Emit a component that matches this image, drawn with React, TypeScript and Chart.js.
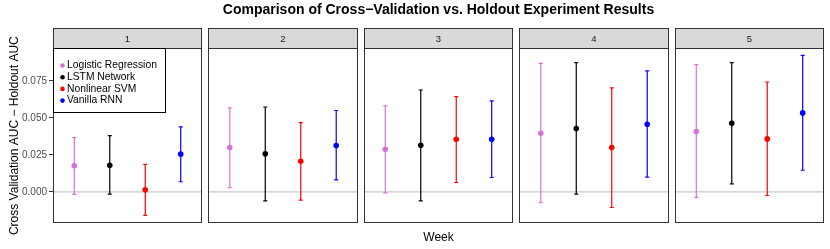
import React, { useEffect, useRef } from "react";
import { Chart, registerables } from "chart.js";

Chart.register(...registerables);

const titleText = "Comparison of Cross\u2212Validation vs. Holdout Experiment Results";
const xTitle = "Week";
const yTitle = "Cross Validation AUC \u2212 Holdout AUC";

const weeks = ["1", "2", "3", "4", "5"];
const models = ["Logistic Regression", "LSTM Network", "Nonlinear SVM", "Vanilla RNN"];
const modelColors = ["#DA70D6", "#000000", "#FF0000", "#0000FF"];
const yTicks = [0, 0.025, 0.05, 0.075];

const logisticMean = [0.0176, 0.03, 0.0288, 0.0396, 0.0408];
const logisticLow = [-0.0018, 0.0029, -0.0007, -0.0074, -0.0038];
const logisticHigh = [0.0367, 0.0568, 0.0581, 0.0869, 0.086];

const lstmMean = [0.018, 0.0257, 0.0315, 0.0428, 0.0464];
const lstmLow = [-0.0016, -0.0061, -0.0061, -0.0016, 0.0054];
const lstmHigh = [0.038, 0.0574, 0.0689, 0.0874, 0.0874];

const svmMean = [0.0014, 0.0207, 0.0356, 0.03, 0.0358];
const svmLow = [-0.016, -0.0056, 0.0063, -0.0106, -0.0025];
const svmHigh = [0.0185, 0.0468, 0.0644, 0.0703, 0.0743];

const rnnMean = [0.0255, 0.0313, 0.0356, 0.0457, 0.0534];
const rnnLow = [0.0068, 0.0081, 0.0097, 0.0099, 0.0146];
const rnnHigh = [0.0439, 0.055, 0.0615, 0.0818, 0.0923];

const means = [logisticMean, lstmMean, svmMean, rnnMean];
const lows = [logisticLow, lstmLow, svmLow, rnnLow];
const highs = [logisticHigh, lstmHigh, svmHigh, rnnHigh];

const FONT = "'Liberation Sans', Arial, Helvetica, sans-serif";
const Y_MIN = -0.0211;
const Y_MAX = 0.0971;
// facet layout in x-scale units: each panel spans 0.4..4.6 around categories 1..4
const PANEL_SPAN = 4.2;
const PANEL_GAP = 0.183;
const PANEL_STEP = PANEL_SPAN + PANEL_GAP;
const X_MIN = 0.4;
const X_MAX = 0.4 + weeks.length * PANEL_SPAN + (weeks.length - 1) * PANEL_GAP;

const facetPlugin = {
  id: "facets",
  beforeDatasetsDraw(chart: any) {
    const { ctx, chartArea, scales } = chart;
    const xs = scales.x;
    const ys = scales.y;
    const top = chartArea.top;
    const bottom = chartArea.bottom;
    ctx.save();
    weeks.forEach((w, i) => {
      const l = Math.round(xs.getPixelForValue(X_MIN + i * PANEL_STEP)) + 0.5;
      const r = Math.round(xs.getPixelForValue(X_MIN + i * PANEL_STEP + PANEL_SPAN)) - 0.5;
      const t = Math.round(top) + 0.5;
      const b = Math.round(bottom) - 0.5;
      ctx.fillStyle = "#FFFFFF";
      ctx.fillRect(l, t, r - l, b - t);
      // zero reference line
      const y0 = ys.getPixelForValue(0);
      ctx.strokeStyle = "#C8C8C8";
      ctx.lineWidth = 1.2;
      ctx.beginPath();
      ctx.moveTo(l, y0);
      ctx.lineTo(r, y0);
      ctx.stroke();
      // border
      ctx.strokeStyle = "#333333";
      ctx.lineWidth = 1;
      ctx.strokeRect(l, t, r - l, b - t);
      // strip
      const st = t - 20;
      ctx.fillStyle = "#D9D9D9";
      ctx.fillRect(l, st, r - l, 20);
      ctx.strokeRect(l, st, r - l, 20);
      ctx.fillStyle = "#1A1A1A";
      ctx.font = `9.5px ${FONT}`;
      ctx.textAlign = "center";
      ctx.textBaseline = "middle";
      ctx.fillText(w, (l + r) / 2, st + 10.5);
    });
    // error bars
    chart.data.datasets.forEach((ds: any, m: number) => {
      ctx.strokeStyle = modelColors[m];
      ctx.lineWidth = 1.2;
      weeks.forEach((_w, i) => {
        const px = xs.getPixelForValue(i * PANEL_STEP + m + 1);
        const yl = ys.getPixelForValue(lows[m][i]);
        const yh = ys.getPixelForValue(highs[m][i]);
        ctx.beginPath();
        ctx.moveTo(px, yl);
        ctx.lineTo(px, yh);
        ctx.moveTo(px - 2, yl);
        ctx.lineTo(px + 2, yl);
        ctx.moveTo(px - 2, yh);
        ctx.lineTo(px + 2, yh);
        ctx.stroke();
      });
    });
    ctx.restore();
  },
  afterDraw(chart: any) {
    const { ctx, chartArea } = chart;
    ctx.save();
    const l = Math.round(chartArea.left) + 0.5;
    const t = Math.round(chartArea.top) + 0.5;
    const w = 112;
    const h = 64;
    ctx.fillStyle = "#FFFFFF";
    ctx.fillRect(l, t, w, h);
    ctx.strokeStyle = "#000000";
    ctx.lineWidth = 1;
    ctx.strokeRect(l, t, w, h);
    ctx.font = `10.3px ${FONT}`;
    ctx.textAlign = "left";
    ctx.textBaseline = "middle";
    chart.data.datasets.forEach((ds: any, m: number) => {
      const y = t + 17 + m * 11.7;
      ctx.fillStyle = modelColors[m];
      ctx.beginPath();
      ctx.arc(l + 9, y, 2.3, 0, Math.PI * 2);
      ctx.fill();
      ctx.fillStyle = "#000000";
      ctx.fillText(ds.label, l + 13.5, y);
    });
    ctx.restore();
  },
};

export default function App() {
  const ref = useRef<HTMLCanvasElement | null>(null);
  useEffect(() => {
    if (!ref.current) return;
    const datasets = models.map((name, m) => ({
      type: "scatter" as const,
      label: name,
      data: weeks.map((_w, i) => ({ x: i * PANEL_STEP + m + 1, y: means[m][i] })),
      backgroundColor: modelColors[m],
      borderColor: modelColors[m],
      borderWidth: 0,
      pointRadius: 2.8,
    }));
    const chart = new Chart(ref.current, {
      type: "scatter",
      data: { datasets },
      plugins: [facetPlugin],
      options: {
        animation: false,
        responsive: false,
        maintainAspectRatio: false,
        layout: { padding: { left: 0, right: 6, top: 0, bottom: 0 } },
        plugins: {
          legend: { display: false },
          tooltip: { enabled: false },
          title: {
            display: true,
            fullSize: false,
            text: titleText,
            color: "#000000",
            font: { size: 14, weight: "bold", family: FONT },
            padding: { top: 2, bottom: 29.5 },
          },
        },
        scales: {
          x: {
            type: "linear",
            min: X_MIN,
            max: X_MAX,
            ticks: { display: false },
            grid: { display: false },
            border: { display: false },
            title: {
              display: true,
              text: xTitle,
              color: "#000000",
              font: { size: 12, family: FONT },
              padding: { top: 0, bottom: 4 },
            },
            afterFit: (s: any) => {
              s.height = 26;
            },
          },
          y: {
            type: "linear",
            min: Y_MIN,
            max: Y_MAX,
            afterBuildTicks: (s: any) => {
              s.ticks = yTicks.map((v) => ({ value: v }));
            },
            ticks: {
              color: "#4D4D4D",
              font: { size: 10, family: FONT },
              padding: 2,
              callback: (v: any) => Number(v).toFixed(3),
            },
            grid: { drawOnChartArea: false, drawTicks: true, tickLength: 4, color: "#333333" },
            border: { display: false },
            title: {
              display: true,
              text: yTitle,
              color: "#000000",
              font: { size: 12, family: FONT },
              padding: { top: 7.3, bottom: 0 },
            },
            afterFit: (s: any) => {
              s.width = 53;
            },
          },
        },
      } as any,
    });
    return () => chart.destroy();
  }, []);
  return (
    <div style={{ position: "fixed", left: 0, top: 0, width: 830, height: 249, background: "#fff" }}>
      <canvas ref={ref} width={830} height={249} style={{ width: 830, height: 249 }} />
    </div>
  );
}
